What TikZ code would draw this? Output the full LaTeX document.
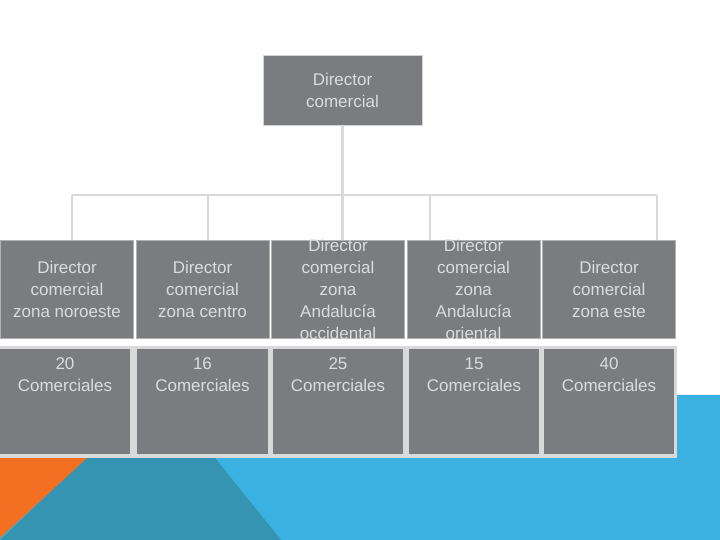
\documentclass[tikz,border=0pt]{standalone}
\usepackage{fontspec}
\setmainfont{Liberation Sans}
\usepackage{xcolor}
\definecolor{boxgray}{HTML}{7B7C80}
\definecolor{txtgray}{HTML}{DCDCDC}
\definecolor{linegray}{HTML}{D9D9D9}
\definecolor{skyblue}{HTML}{3AB1E0}
\definecolor{deepteal}{HTML}{3594B2}
\definecolor{orangeish}{HTML}{F36F21}

\begin{document}
\begin{tikzpicture}[x=0.03cm,y=-0.03cm,
	every node/.style={font=\fontsize{14.5}{18.8}\selectfont,text=txtgray,align=center},
	topbox/.style={fill=boxgray,draw=gray!35,line width=0.6pt,minimum width=4.77cm,minimum height=2.1cm},
	zonebox/.style={fill=boxgray,draw=gray!60,line width=0.4pt,minimum width=4.0cm,minimum height=2.94cm,inner sep=0pt},
	zonetext/.style={inner sep=0pt},
	teambox/.style={fill=boxgray,draw=gray!30,line width=1.2pt,minimum width=3.95cm,minimum height=3.21cm},
	teamtext/.style={below=9pt,inner sep=0pt},
	link/.style={draw=linegray,line width=1.8pt}]
	\useasboundingbox (0,0) rectangle (720,540);
	\fill[white] (0,0) rectangle (720,540);
	% background shapes
	\fill[skyblue] (675,395) -- (720,395) -- (720,540) -- (0,540) -- (0,458) -- (675,458) -- cycle;
	\fill[deepteal] (86,458) -- (215,458) -- (281,540) -- (0,540) -- cycle;
	\fill[orangeish] (0,458) -- (87,458) -- (0,538) -- cycle;
	\fill[gray!30] (0,346) rectangle (677,458);

	\node[topbox] (dir) at (342.5,90) {Director\\comercial};

	\node[zonebox,label={[zonetext]center:{Director\\comercial\\zona noroeste}}] (z1) at (67,289) {};
	\node[zonebox,label={[zonetext]center:{Director\\comercial\\zona centro}}] (z2) at (202.5,289) {};
	\node[zonebox,label={[zonetext]center:{Director\\comercial\\zona\\Andalucía\\occidental}}] (z3) at (338,289) {};
	\node[zonebox,label={[zonetext]center:{Director\\comercial\\zona\\Andalucía\\oriental}}] (z4) at (473.5,289) {};
	\node[zonebox,label={[zonetext]center:{Director\\comercial\\zona este}}] (z5) at (609,289) {};

	\node[teambox,label={[teamtext]north:{20\\Comerciales}}] (c1) at (65,401.5) {};
	\node[teambox,label={[teamtext]north:{16\\Comerciales}}] (c2) at (202.5,401.5) {};
	\node[teambox,label={[teamtext]north:{25\\Comerciales}}] (c3) at (338,401.5) {};
	\node[teambox,label={[teamtext]north:{15\\Comerciales}}] (c4) at (474,401.5) {};
	\node[teambox,label={[teamtext]north:{40\\Comerciales}}] (c5) at (609,401.5) {};

	% connectors
	\coordinate (j1) at (72,195);
	\coordinate (j2) at (208,195);
	\coordinate (j3) at (342.5,195);
	\coordinate (j4) at (430,195);
	\coordinate (j5) at (657,195);
	\path[link] (dir.south) -- (j3);
	\path[link] (j1) -- (j5);
	\path[link] (j1) -- (j1 |- z1.north);
	\path[link] (j2) -- (j2 |- z2.north);
	\path[link] (j3) -- (j3 |- z3.north);
	\path[link] (j4) -- (j4 |- z4.north);
	\path[link] (j5) -- (j5 |- z5.north);
\end{tikzpicture}
\end{document}
